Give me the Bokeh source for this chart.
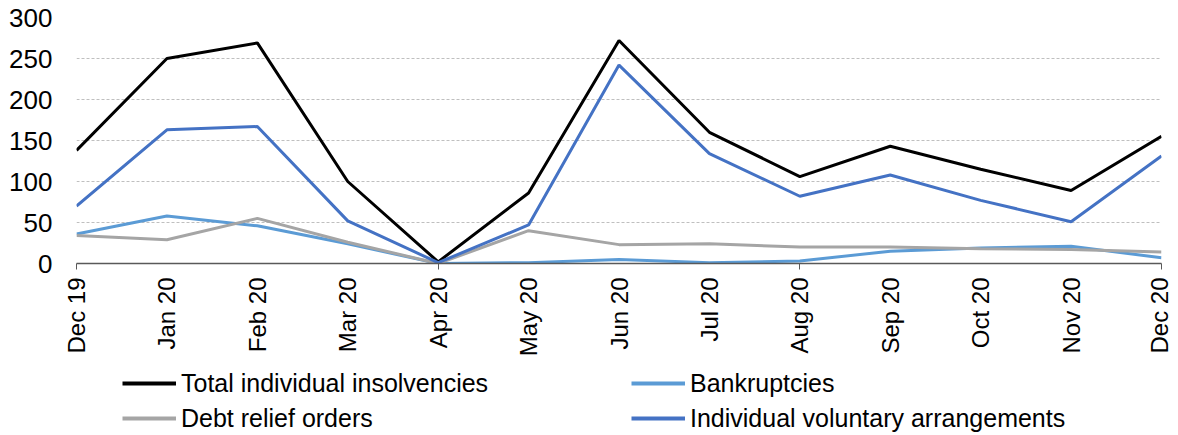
import numpy as np
from bokeh.plotting import figure
from bokeh.layouts import column
from bokeh.models import (ColumnDataSource, FixedTicker, Legend, LegendItem, Range1d)
from bokeh.embed import file_html
from bokeh.resources import INLINE

months = ["Dec 19", "Jan 20", "Feb 20", "Mar 20", "Apr 20", "May 20", "Jun 20",
          "Jul 20", "Aug 20", "Sep 20", "Oct 20", "Nov 20", "Dec 20"]
total = [138, 250, 269, 100, 2, 86, 272, 160, 106, 143, 115, 89, 155]
bankruptcies = [36, 58, 46, 24, 0, 1, 5, 1, 3, 15, 19, 21, 7]
debt_relief = [34, 29, 55, 26, 0, 40, 23, 24, 20, 20, 18, 17, 14]
iva = [70, 163, 167, 52, 1, 47, 242, 134, 82, 108, 77, 51, 131]
y_ticks = [0, 50, 100, 150, 200, 250, 300]
series_cols = ["total", "bank", "dro", "iva"]
series_names = ["Total individual insolvencies", "Bankruptcies",
                "Debt relief orders", "Individual voluntary arrangements"]
series_colors = ["#000000", "#5B9BD5", "#A5A5A5", "#4472C4"]

FONT = "Liberation Sans"
W = 1172
x = list(range(len(months)))
src = ColumnDataSource(dict(x=x, total=total, bank=bankruptcies, dro=debt_relief, iva=iva))

p = figure(width=W, height=359, output_backend="svg", toolbar_location=None,
           x_range=Range1d(0, len(months) - 1), y_range=Range1d(0, 300),
           min_border_left=76, min_border_right=11, min_border_top=17, min_border_bottom=0)
p.outline_line_color = None
p.background_fill_color = "white"
p.border_fill_color = "white"

for col, c in zip(series_cols, series_colors):
    p.line("x", col, source=src, line_color=c, line_width=3)

# x axis
p.xaxis.ticker = FixedTicker(ticks=x, minor_ticks=x[::4])
p.xaxis.major_label_overrides = {i: m for i, m in enumerate(months)}
p.xaxis.major_label_orientation = np.pi / 2
p.xaxis.major_tick_out = 0
p.xaxis.major_tick_in = 0
p.xaxis.minor_tick_out = 6
p.xaxis.minor_tick_in = 0
p.xaxis.minor_tick_line_color = "#595959"
p.xaxis.axis_line_color = "#595959"
p.xaxis.axis_line_width = 1.5
p.xaxis.major_label_standoff = 8
p.xaxis.major_label_text_font = FONT
p.xaxis.major_label_text_font_size = "24px"
p.xaxis.major_label_text_color = "#000000"

# y axis
p.yaxis.ticker = FixedTicker(ticks=y_ticks)
p.yaxis.axis_line_color = None
p.yaxis.major_tick_out = 0
p.yaxis.major_tick_in = 0
p.yaxis.minor_tick_line_color = None
p.yaxis.major_label_standoff = 24
p.yaxis.major_label_text_font = FONT
p.yaxis.major_label_text_font_size = "26px"
p.yaxis.major_label_text_color = "#000000"

p.xgrid.grid_line_color = None
p.ygrid.grid_line_color = "#BFBFBF"
p.ygrid.grid_line_dash = "3 2"
p.ygrid.grid_line_width = 1

# legend panel (separate figure below the chart; its frame aligns with the chart's frame)
pl = figure(width=W, height=74, output_backend="svg", toolbar_location=None,
            x_range=Range1d(0, len(months) - 1), y_range=Range1d(1000, 1001),
            x_axis_type=None, y_axis_type=None,
            min_border_left=0, min_border_right=0, min_border_top=0, min_border_bottom=0)
pl.outline_line_color = None
pl.border_fill_color = "white"
pl.background_fill_color = "white"
# proxies drawn from the same data but outside the visible range (only their legend glyphs show)
proxies = [pl.line("x", col, source=src, line_color=c, line_width=4)
           for col, c in zip(series_cols, series_colors)]


def make_legend(idx, loc):
    lg = Legend(items=[LegendItem(label=series_names[i], renderers=[proxies[i]]) for i in idx],
                orientation="vertical", location=loc)
    lg.label_text_font = FONT
    lg.label_text_font_size = "25px"
    lg.label_text_color = "#000000"
    lg.glyph_width = 54
    lg.glyph_height = 30
    lg.label_height = 30
    lg.label_standoff = 5
    lg.spacing = 5
    lg.padding = 0
    lg.margin = 0
    lg.border_line_color = None
    lg.background_fill_alpha = 0
    return lg


pl.add_layout(make_legend([0, 2], (46, 0)), "center")
pl.add_layout(make_legend([1, 3], (555, 0)), "center")

open("out.html", "w").write(file_html(column(p, pl), INLINE))
